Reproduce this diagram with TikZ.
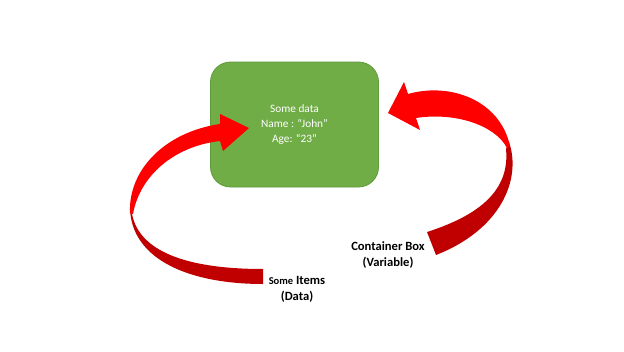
\documentclass[tikz,border=0pt]{standalone}
\usepackage{fontspec}
\setmainfont{Carlito}
\definecolor{boxgreen}{HTML}{70AD47}
\definecolor{boxedge}{HTML}{5E9B3A}
\definecolor{brightred}{HTML}{FF0000}
\definecolor{darkred}{HTML}{C00000}
\tikzset{
  databox/.style={draw=boxedge, line width=0.8pt, fill=boxgreen, rounded corners=20pt,
    minimum width=168pt, minimum height=125pt, text=white, align=center,
    font=\fontsize{11.3}{15}\selectfont, inner sep=0pt},
  lbl/.style={align=center, font=\fontsize{12.6}{16}\selectfont\bfseries, text=black},
  ribbonhi/.style={fill=brightred, draw=none},
  ribbonlo/.style={fill=darkred, draw=none}
}
\begin{document}
\begin{tikzpicture}[x=1pt,y=-1pt]
\useasboundingbox (0,0) rectangle (624,351);
\fill[white] (0,0) rectangle (624,351);
\node[databox] (box) at (294.5,124.5) {Some data\\Name : “John”\\Age: “23”};
% left ribbon arrow
\path[ribbonlo] (130,209) .. controls (132,260) and (190,284) .. (263,284)
  -- (263,269) .. controls (195,269) and (140,255) .. (132,214) -- cycle;
\path[ribbonhi] (130,213) .. controls (128,170) and (165,132) .. (220,124)
  -- (220,114) -- (249,128) -- (223,151) -- (220,141)
  .. controls (175,146) and (140,175) .. (133,214) -- cycle;
% right ribbon arrow
\path[ribbonlo] (509,142) .. controls (522,180) and (500,230) .. (436,255)
  -- (427,232) .. controls (480,215) and (510,190) .. (506,149) -- cycle;
\path[ribbonhi] (510,146) .. controls (500,100) and (450,82) .. (408,94)
  -- (404,82) -- (388,113) -- (420,130) -- (416,118)
  .. controls (455,112) and (495,125) .. (507,148) -- cycle;
% labels
\node[lbl] (items) at (297,289) {{\fontsize{10.5}{16}\selectfont Some} Items\\(Data)};
\node[lbl] (cont) at (388,255) {Container Box\\(Variable)};
\end{tikzpicture}
\end{document}
